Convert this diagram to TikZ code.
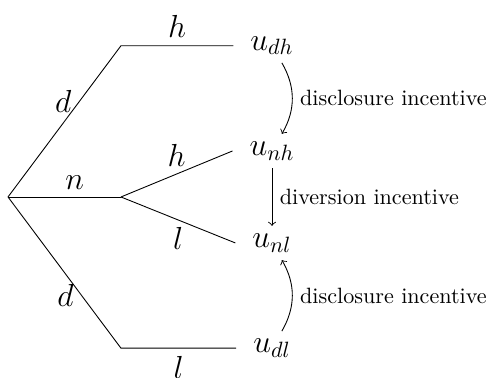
\documentclass[tikz,border=0pt]{standalone}
\usepackage{amsmath}
\begin{document}
\begin{tikzpicture}[>=to, lab/.style={font=\Large}, util/.style={font=\Large, inner xsep=7.5pt}]
	\useasboundingbox (-0.127,-2.873) rectangle (7.729,3.126);
	\coordinate (root) at (0,0);
	\coordinate (cd1) at (1.793,2.4);
	\coordinate (cn) at (1.793,0);
	\coordinate (cd2) at (1.793,-2.4);
	\node[util] (udh) at (4.19,2.4) {$u_{dh}$};
	\node[util] (unh) at (4.19,0.73) {$u_{nh}$};
	\node[util] (unl) at (4.19,-0.73) {$u_{nl}$};
	\node[util] (udl) at (4.19,-2.4) {$u_{dl}$};
	\draw (root) -- (cd1) node[lab, pos=0.63, left] {$d$} -- (udh.west) node[lab, midway, above] {$h$};
	\draw (root) -- (cn) node[lab, pos=0.59, above] {$n$};
	\draw (cn) -- (unh.west) node[lab, midway, above] {$h$};
	\draw (cn) -- (unl.west) node[lab, midway, below] {$l$};
	\draw (root) -- (cd2) node[lab, pos=0.65, left] {$d$} -- (udl.west) node[lab, midway, below] {$l$};
	\draw[->] (udh) to[bend left=30] node[right] {disclosure incentive} (unh);
	\draw[->] (unh) -- node[right] {diversion incentive} (unl);
	\draw[->] (udl) to[bend right=30] node[right] {disclosure incentive} (unl);
\end{tikzpicture}
\end{document}
